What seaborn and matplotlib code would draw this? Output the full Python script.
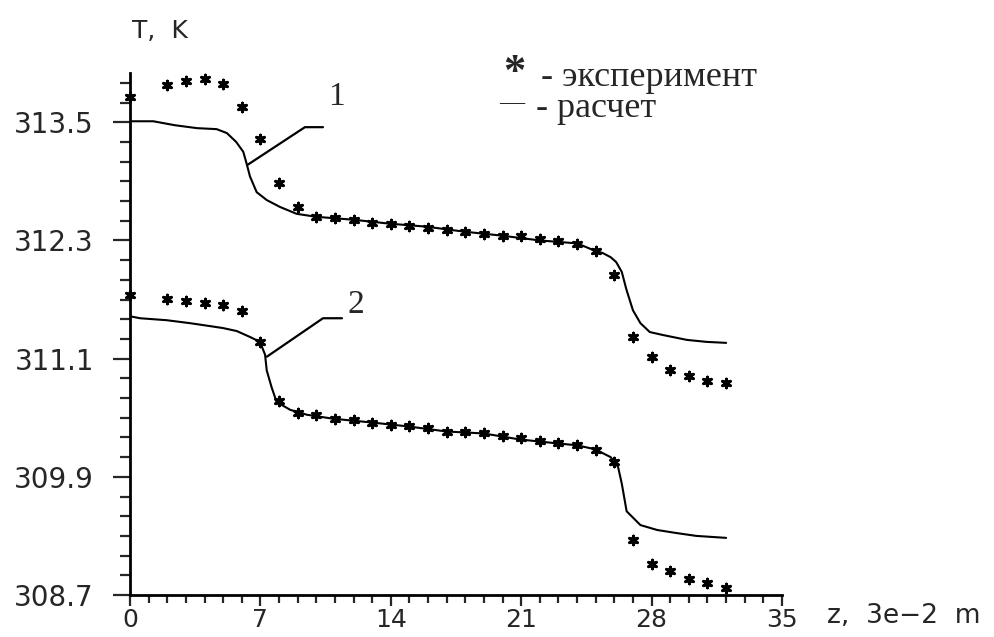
import numpy as np
import pandas as pd
import matplotlib
matplotlib.use("Agg")
import matplotlib.pyplot as plt
from matplotlib.ticker import FixedLocator, MultipleLocator
import seaborn as sns

# ---- data ----
exp_z = [0, 2, 3, 4, 5, 6, 7, 8, 9, 10, 11, 12, 13, 14, 15, 16, 17, 18, 19, 20,
         21, 22, 23, 24, 25, 26, 27, 28, 29, 30, 31, 32]
exp1_T = [313.76, 313.88, 313.92, 313.94, 313.89, 313.65, 313.33, 312.88, 312.64,
          312.54, 312.53, 312.51, 312.48, 312.47, 312.45, 312.43, 312.41, 312.39,
          312.37, 312.35, 312.34, 312.31, 312.29, 312.26, 312.19, 311.95, 311.32,
          311.12, 310.98, 310.92, 310.87, 310.85]
exp2_T = [311.75, 311.71, 311.69, 311.66, 311.64, 311.58, 311.27, 310.67, 310.55,
          310.53, 310.49, 310.48, 310.45, 310.43, 310.42, 310.40, 310.36, 310.35,
          310.34, 310.31, 310.29, 310.26, 310.24, 310.22, 310.17, 310.05, 309.26,
          309.01, 308.94, 308.86, 308.82, 308.77]

calc1_z = [0, 1.25, 2.4, 3.6, 4.65, 5.2, 5.7, 6.08, 6.26, 6.44, 6.8, 7.34, 8.05,
           8.95, 10.0, 12.0, 13.95, 15.9, 17.9, 19.9, 22.0, 24.0, 24.9, 25.4, 25.8,
           26.1, 26.4, 26.65, 27.0, 27.4, 27.9, 28.6, 29.9, 30.95, 32]
calc1_T = [313.51, 313.51, 313.47, 313.44, 313.43, 313.39, 313.30, 313.2, 313.08,
           312.95, 312.79, 312.71, 312.64, 312.57, 312.54, 312.51, 312.47, 312.44,
           312.39, 312.35, 312.30, 312.27, 312.2, 312.17, 312.13, 312.08, 311.98,
           311.80, 311.59, 311.46, 311.37, 311.34, 311.29, 311.27, 311.26]

calc2_z = [0, 0.54, 1.97, 3.22, 4.3, 5.0, 5.73, 6.44, 6.98, 7.25, 7.34, 7.6, 7.87,
           8.6, 9.5, 10.9, 13.06, 15.0, 17.0, 19.0, 20.9, 22.9, 24.0, 24.96, 25.8,
           26.2, 26.4, 26.66, 27.4, 28.3, 29.3, 30.4, 32]
calc2_T = [311.53, 311.51, 311.49, 311.46, 311.43, 311.41, 311.38, 311.32, 311.27,
           311.14, 310.98, 310.81, 310.66, 310.58, 310.53, 310.49, 310.45, 310.41,
           310.36, 310.34, 310.28, 310.24, 310.22, 310.18, 310.10, 310.0, 309.83,
           309.55, 309.41, 309.36, 309.33, 309.30, 309.28]

x_ticks = [0, 7, 14, 21, 28, 35]
y_ticks = [308.7, 309.9, 311.1, 312.3, 313.5]
y_ticklabels = ["308.7", "309.9", "311.1", "312.3", "313.5"]

# ---- plot ----
sns.set_style("white")
plt.rcParams["font.family"] = ["DejaVu Sans"]

fig = plt.figure(figsize=(9.94, 6.37), dpi=100)
ax = fig.add_axes([130 / 994, 1 - 595 / 637, (782 - 130) / 994, (595 - 73) / 637])

df_c1 = pd.DataFrame({"z": calc1_z, "T": calc1_T})
df_c2 = pd.DataFrame({"z": calc2_z, "T": calc2_T})
df_e1 = pd.DataFrame({"z": exp_z, "T": exp1_T})
df_e2 = pd.DataFrame({"z": exp_z, "T": exp2_T})

for d in (df_c1, df_c2):
    sns.lineplot(data=d, x="z", y="T", ax=ax, color="black", linewidth=1.5,
                 estimator=None, sort=False)
for d in (df_e1, df_e2):
    sns.scatterplot(data=d, x="z", y="T", ax=ax, color="black",
                    marker=(6, 2, 0), s=38, linewidth=2.2, zorder=3, clip_on=False)

ax.set_xlim(0, 35)
ax.set_ylim(308.7, 314.0)
ax.set_xlabel("")
ax.set_ylabel("")

for s in ("top", "right"):
    ax.spines[s].set_visible(False)
for s in ("left", "bottom"):
    ax.spines[s].set_linewidth(2)
    ax.spines[s].set_color("black")

ax.xaxis.set_major_locator(FixedLocator(x_ticks))
ax.xaxis.set_minor_locator(MultipleLocator(1))
ax.set_xticklabels([str(v) for v in x_ticks])
ax.yaxis.set_major_locator(FixedLocator(y_ticks))
ax.yaxis.set_minor_locator(FixedLocator(list(np.arange(308.7, 314.0, 0.2))))
ax.set_yticklabels(y_ticklabels)

ax.tick_params(axis="y", which="major", direction="out", length=12, width=1.6,
               pad=14, labelsize=20, left=True)
ax.tick_params(axis="y", which="minor", direction="out", length=7, width=1.6, left=True)
ax.tick_params(axis="x", which="major", direction="out", length=8, width=1.6,
               pad=1.5, labelsize=18, bottom=True)
ax.tick_params(axis="x", which="minor", direction="out", length=6, width=1.6, bottom=True)

# axis captions
fig.text(160 / 994, 1 - 31 / 637, "T,  K", fontsize=18, ha="center", va="center")
fig.text(904 / 994, 1 - 616 / 637, "z,  3e\u22122  m", fontsize=19, ha="center",
         va="center")

# legend-like text
serif = ["Liberation Serif", "DejaVu Serif"]
fig.text(514 / 994, 1 - 84 / 637, "*", fontsize=32, family=serif, ha="center",
         va="baseline", fontweight="bold")
fig.text(541 / 994, 1 - 86 / 637, "- эксперимент", fontsize=26, family=serif,
         ha="left", va="baseline")
fig.text(499 / 994, 1 - 108 / 637, "\u2014", fontsize=18, family=serif,
         ha="left", va="baseline")
fig.text(536 / 994, 1 - 117 / 637, "- расчет", fontsize=26, family=serif,
         ha="left", va="baseline")

# curve labels with leader lines
ax.plot([6.33, 9.39, 10.36], [313.07, 313.45, 313.45], color="black", lw=1.6,
        clip_on=False)
ax.text(11.1, 313.76, "1", fontsize=24, family=serif, ha="center", va="center")
ax.plot([7.35, 10.36, 11.38], [311.12, 311.51, 311.51], color="black", lw=1.6,
        clip_on=False)
ax.text(12.13, 311.65, "2", fontsize=24, family=serif, ha="center", va="center")

fig.savefig("out.png", dpi=100)
